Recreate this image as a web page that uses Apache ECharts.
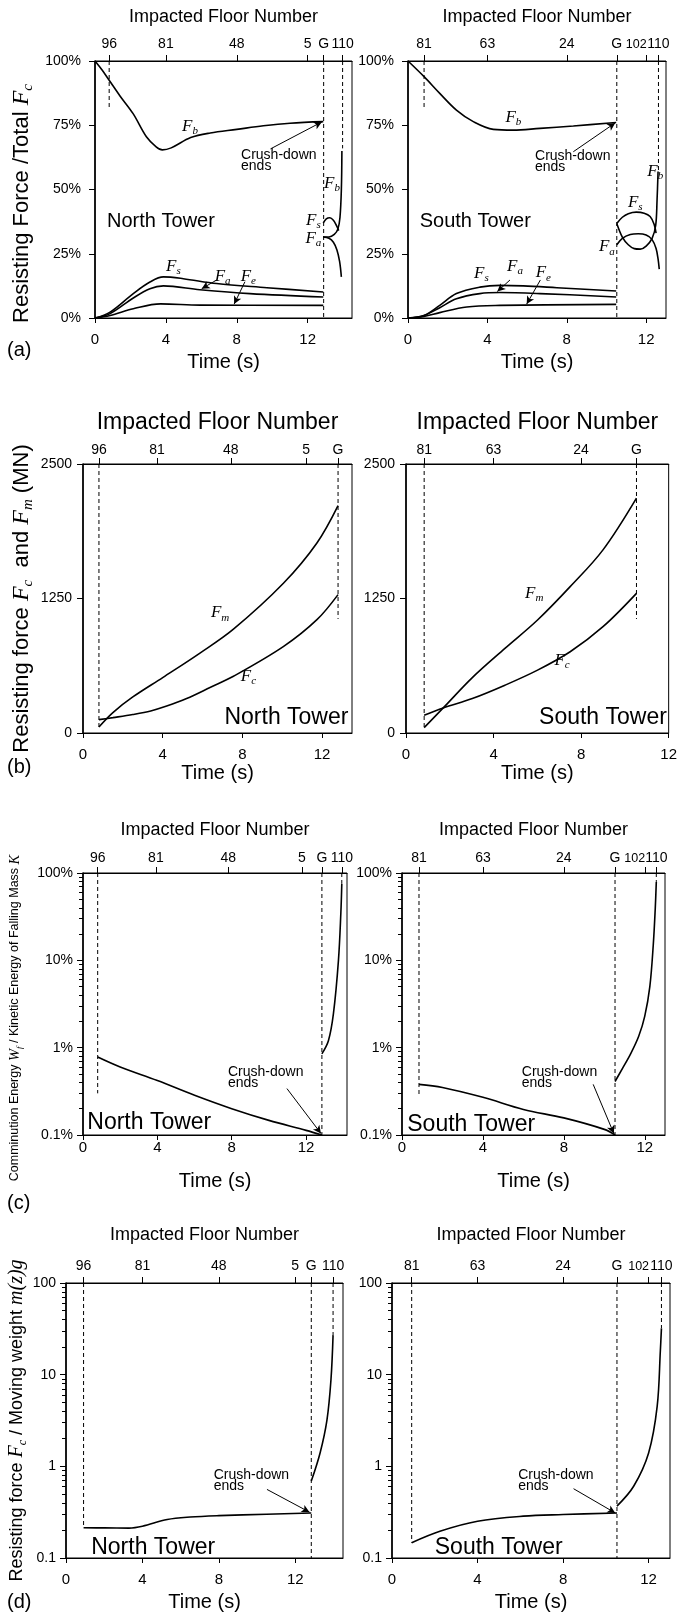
<!DOCTYPE html>
<html>
<head>
<meta charset="utf-8">
<script src="https://cdn.jsdelivr.net/npm/echarts@6/dist/echarts.min.js"></script>
<style>
html, body { margin: 0; padding: 0; background: #fff; }
#main { width: 680px; height: 1614px; }
</style>
</head>
<body>
<div id="main"></div>
<script>
// ---------- data ----------
// (a) share of total resisting force Fc, in %
const aNorthFb = [[0,100],[0.4,96.5],[0.8,92.5],[1.4,86.5],[2.15,79.5],[2.9,70.5],[3.45,66.6],[3.8,65.4],[4.3,66.2],[5.4,70.2],[6.5,72],[8,73.4],[9.5,74.8],[11,75.8],[12.88,76.4]];
const aNorthFs = [[0,0],[0.85,2.3],[2.16,9.5],[3.1,14],[3.86,16],[4.98,15.3],[6.86,13.4],[9.7,11.8],[12.88,10.1]];
const aNorthFa = [[0,0],[0.85,1.7],[2.16,7.8],[3.1,11.4],[3.86,12.5],[5.92,11],[8.74,9.5],[12.88,8.2]];
const aNorthFe = [[0,0],[0.85,1],[2.16,3.6],[3.7,5.5],[5.92,5],[12.88,4.9]];
const aNorthFbUp = [[12.88,31.5],[13.2,31.5],[13.5,32.5],[13.7,34.5],[13.82,39],[13.9,50],[13.93,65]];
const aNorthFsUp = [[12.88,37],[13.05,38.6],[13.25,39],[13.45,38],[13.62,36],[13.75,34]];
const aNorthFaUp = [[12.88,31.5],[13.2,31],[13.45,29.5],[13.65,26.5],[13.8,22],[13.9,16]];

const aSouthFb = [[0,100],[0.81,93.9],[1.6,87.4],[2.44,80.9],[3.29,76.4],[4.3,73.4],[5.3,73.1],[6.65,73.8],[8.33,74.7],[10.49,76.1]];
const aSouthFs = [[0,0],[0.81,1],[1.6,4.9],[2.44,9.5],[3.62,12],[4.63,12.7],[5.81,12.5],[7.5,11.8],[10.49,10.5]];
const aSouthFa = [[0,0],[0.81,1],[1.6,4],[2.44,7.5],[3.62,9.5],[4.63,9.9],[6.65,9.5],[10.49,8.2]];
const aSouthFe = [[0,0],[0.81,0.6],[1.6,2.1],[2.96,4.3],[4.63,4.9],[10.49,5.3]];
const aSouthFsUp = [[10.52,36.8],[10.8,39.2],[11.1,40.6],[11.5,41.2],[11.9,40.8],[12.2,39.5],[12.4,36.5],[12.5,33]];
const aSouthFbUp = [[10.52,36.8],[10.8,31.5],[11.1,28.5],[11.4,27],[11.7,26.8],[12.0,28],[12.3,31],[12.48,36],[12.55,46],[12.6,57]];
const aSouthFaUp = [[10.52,28.5],[10.8,31],[11.2,32.5],[11.6,32.8],[12.0,32.3],[12.3,30.5],[12.5,27],[12.6,23],[12.66,19]];

// (b) resisting force Fc and Fm, MN
const bNorthFm = [[0.8,56],[1.5,190],[2.5,335],[4,515],[5.87,743],[7.55,965],[10.07,1394],[11.74,1766],[12.8,2113]];
const bNorthFc = [[0.8,124],[1.5,143],[2.5,172],[3.4,205],[4.2,250],[5.2,320],[6.4,425],[7.55,527],[10.07,805],[11.74,1053],[12.8,1286]];
const bSouthFm = [[0.83,50],[1.7,233],[3.03,515],[4.52,786],[6.01,1050],[7.5,1360],[9.0,1702],[10.53,2183]];
const bSouthFc = [[0.83,165],[1.7,233],[3.03,320],[4.52,444],[6.01,584],[7.5,755],[9.0,988],[10.53,1298]];

// (c) comminution energy / kinetic energy, %
const cNorthW = [[0.79,0.78],[2,0.6],[4,0.42],[6,0.285],[8,0.2],[10,0.147],[12,0.113],[12.85,0.1]];
const cNorthWUp = [[12.85,0.85],[13.2,1.2],[13.47,2.45],[13.74,10],[13.87,35],[13.92,75]];
const cSouthW = [[0.84,0.38],[2,0.35],[4,0.27],[6,0.196],[8,0.157],[10,0.116],[10.53,0.1]];
const cSouthWUp = [[10.53,0.41],[10.9,0.58],[11.3,0.85],[11.7,1.35],[12.0,2.3],[12.25,5],[12.42,15],[12.52,40],[12.57,79]];

// (d) Fc / moving weight
const dNorthR = [[0.92,0.214],[2,0.213],[3.3,0.212],[4,0.222],[5.3,0.263],[6.5,0.28],[8,0.29],[10.5,0.3],[12.84,0.31]];
const dNorthRUp = [[12.84,0.69],[13.3,1.4],[13.66,3.2],[13.87,8.8],[13.98,27]];
const dSouthR = [[0.92,0.147],[2.24,0.196],[4,0.252],[6.14,0.286],[8,0.298],[10.52,0.31]];
const dSouthRUp = [[10.52,0.368],[11.3,0.606],[12,1.4],[12.4,4.5],[12.55,18.5],[12.6,32]];

// dashed verticals: [time, from, to]
const aNorthDash = [[0.8,100,81],[12.9,100,0],[13.97,100,66]];
const aSouthDash = [[0.81,100,81],[10.52,100,0],[12.62,100,57]];
const bNorthDash = [[0.8,2500,55],[12.8,2500,1060]];
const bSouthDash = [[0.83,2500,50],[10.53,2500,1060]];
const cNorthDash = [[0.79,100,0.3],[12.85,100,0.1],[13.92,100,75]];
const cSouthDash = [[0.84,100,0.28],[10.53,100,0.1],[12.57,100,79]];
const dNorthDash = [[0.92,100,0.214],[12.84,100,0.1],[13.98,100,27]];
const dSouthDash = [[0.92,100,0.147],[10.52,100,0.1],[12.6,100,32]];

// time axis, impacted floor axis, log minor ticks
const timeTicks = [0, 4, 8, 12];
const northFloors = ['96', '81', '48', '5', 'G', '110'];
const southFloors = ['81', '63', '24', 'G', '102', '110'];
const aNorthFloorT = [0.8, 4, 8, 12, 12.9, 13.97];
const aSouthFloorT = [0.81, 4, 8, 10.52, 12, 12.62];
const bNorthFloorT = [0.8, 3.72, 7.42, 11.2, 12.8];
const bSouthFloorT = [0.83, 4, 8, 10.53];
const cNorthFloorT = [0.79, 3.92, 7.81, 11.77, 12.85, 13.92];
const cSouthFloorT = [0.84, 4, 8, 10.53, 12, 12.57];
const dNorthFloorT = [0.92, 4, 8, 12, 12.84, 13.98];
const dSouthFloorT = [0.92, 4, 8, 10.52, 12, 12.6];
const logMinor = [0.2,0.3,0.4,0.5,0.6,0.7,0.8,0.9,2,3,4,5,6,7,8,9,20,30,40,50,60,70,80,90];

// ---------- layout ----------
const SANS = '"Liberation Sans", Arial, sans-serif';
const NARROW = '"Liberation Sans Narrow", "Liberation Sans", Arial, sans-serif';
const SERIF = '"Liberation Serif", "Times New Roman", serif';

function rich(size) {
    return {
        f: { fontFamily: SERIF, fontStyle: 'italic', fontSize: size, color: '#000' },
        s: { fontFamily: SERIF, fontStyle: 'italic', fontSize: Math.round(size * 0.62), color: '#000', padding: [Math.round(size * 0.6), 0, 0, 0] }
    };
}

const rows = [
    { type: 'value', min: 0, max: 100, interval: 25, fmt: v => v + '%', lf: NARROW, ls: 14, lm: 14,
      tm: 14, tg: 34, topGap: 35, topM: 10, topSize: 18,
      yName: 'Resisting Force /Total {f|F}{s|c}', ySize: 22, yGap: 59, yPad: [0, 28, 0, 0] },
    { type: 'value', min: 0, max: 2500, interval: 1250, fmt: v => String(v), lf: NARROW, ls: 14, lm: 11,
      tm: 14, tg: 30, topGap: 30, topM: 7, topSize: 23,
      yName: 'Resisting force {f|F}{s|c}  and {f|F}{s|m} (MN)', ySize: 22, yGap: 47, yPad: 0 },
    { type: 'log', min: 0.1, max: 100, fmt: v => (+v.toPrecision(2)) + '%', lf: SANS, ls: 14, lm: 10,
      tm: 5, tg: 36, topGap: 34, topM: 8, topSize: 18,
      yName: 'Comminution Energy {f|W}{s|f} / Kinetic Energy of Falling Mass {f|K}', ySize: 12.5, yGap: 59, yPad: [0, 28, 0, 0] },
    { type: 'log', min: 0.1, max: 100, fmt: v => String(+v.toPrecision(2)), lf: SANS, ls: 14, lm: 10,
      tm: 14, tg: 34, topGap: 39, topM: 10, topSize: 18,
      yName: 'Resisting force {f|F}{s|c} / Moving weight {f|m(z)g}', ySize: 18, yGap: 35, yPad: 0 }
];

const panels = [
    { box: [95, 61, 257, 257], xmax: 14.5, floorT: aNorthFloorT, floors: northFloors,
      curves: [aNorthFb, aNorthFs, aNorthFa, aNorthFe, aNorthFbUp, aNorthFsUp, aNorthFaUp], dash: aNorthDash },
    { box: [408, 61, 258, 257], xmax: 13, floorT: aSouthFloorT, floors: southFloors,
      curves: [aSouthFb, aSouthFs, aSouthFa, aSouthFe, aSouthFsUp, aSouthFbUp, aSouthFaUp], dash: aSouthDash },
    { box: [83, 464, 269, 269], xmax: 13.5, floorT: bNorthFloorT, floors: northFloors,
      curves: [bNorthFm, bNorthFc], dash: bNorthDash },
    { box: [406, 464, 268, 269], xmax: 12, floorT: bSouthFloorT, floors: southFloors,
      curves: [bSouthFm, bSouthFc], dash: bSouthDash },
    { box: [83, 873, 264, 262], xmax: 14.2, floorT: cNorthFloorT, floors: northFloors,
      curves: [cNorthW, cNorthWUp], dash: cNorthDash },
    { box: [402, 873, 263, 262], xmax: 13, floorT: cSouthFloorT, floors: southFloors,
      curves: [cSouthW, cSouthWUp], dash: cSouthDash },
    { box: [66, 1283, 277, 275], xmax: 14.5, floorT: dNorthFloorT, floors: northFloors,
      curves: [dNorthR, dNorthRUp], dash: dNorthDash },
    { box: [392, 1283, 278, 275], xmax: 13, floorT: dSouthFloorT, floors: southFloors,
      curves: [dSouthR, dSouthRUp], dash: dSouthDash }
];

// arrows: [panel, from, to]
const arrows = [
    [0, [9.9, 65.8], [12.8, 76.3]], [0, [6.87, 14.8], [6.02, 11.4]], [0, [8.46, 14.1], [7.85, 5.4]],
    [1, [8.33, 64.7], [10.44, 75.9]], [1, [5.14, 14.8], [4.5, 10.3]], [1, [6.67, 14.8], [5.98, 5.4]],
    [4, [10.97, 0.34], [12.8, 0.104]], [5, [9.45, 0.38], [10.47, 0.104]],
    [6, [10.52, 0.56], [12.75, 0.316]], [7, [8.49, 0.57], [10.44, 0.31]]
];
// curve names: [panel, t, value, letter, subscript, size]
const curveNames = [
    [0, 5.36, 74.5, 'F', 'b', 17], [0, 13.37, 52.5, 'F', 'b', 17], [0, 12.32, 38, 'F', 's', 17], [0, 12.32, 31, 'F', 'a', 17],
    [0, 4.42, 20, 'F', 's', 17], [0, 7.2, 16.3, 'F', 'a', 17], [0, 8.65, 16.3, 'F', 'e', 17],
    [1, 5.31, 78, 'F', 'b', 17], [1, 12.46, 57, 'F', 'b', 17], [1, 11.45, 45, 'F', 's', 17], [1, 10.02, 27.7, 'F', 'a', 17],
    [1, 3.7, 17.4, 'F', 's', 17], [1, 5.39, 20, 'F', 'a', 17], [1, 6.82, 17.6, 'F', 'e', 17],
    [2, 6.88, 1115, 'F', 'm', 17], [2, 8.3, 526, 'F', 'c', 17],
    [3, 5.86, 1298, 'F', 'm', 17], [3, 7.13, 677, 'F', 'c', 17]
];
// "Crush-down ends" notes, top-left corner: [panel, t, value]
const crushNotes = [[0, 8.24, 65.4], [1, 6.4, 65], [4, 7.8, 0.61], [5, 5.92, 0.6], [6, 7.73, 0.92], [7, 5.9, 0.92]];
// tower names: [panel, t, value, align, size]
const towerNames = [
    [0, 0.68, 37.4, 'left', 20], [1, 0.59, 37.4, 'left', 20],
    [2, 13.32, 142, 'right', 23], [3, 11.92, 146, 'right', 23],
    [4, 0.23, 0.137, 'left', 23], [5, 0.26, 0.13, 'left', 23],
    [6, 1.32, 0.13, 'left', 23], [7, 2.0, 0.13, 'left', 23]
];
const panelTags = [['(a)', 350], ['(b)', 767], ['(c)', 1203], ['(d)', 1602]];
// the crowded floor label set apart from the axis labels: [panel, t]
const crowdedFloor = [[1, 12], [5, 12], [7, 12]];

// ---------- option ----------
const chart = echarts.init(document.getElementById('main'));

const grid = [], xAxis = [], yAxis = [], series = [];
const minorAxes = [];
panels.forEach((p, i) => {
    const r = rows[Math.floor(i / 2)];
    const isLeft = i % 2 === 0;
    const labelT = p.floorT.filter((t, j) => p.floors[j] !== '102');
    grid.push({ left: p.box[0], top: p.box[1], width: p.box[2], height: p.box[3],
        show: true, borderColor: '#000', borderWidth: 1, backgroundColor: 'transparent' });
    xAxis.push({
        gridIndex: i, type: 'value', position: 'bottom', min: 0, max: p.xmax,
        axisLine: { show: true, onZero: false, lineStyle: { color: '#000', width: 1 } },
        axisTick: { show: true, customValues: timeTicks, length: 5, lineStyle: { color: '#000' } },
        axisLabel: { customValues: timeTicks, color: '#000', fontSize: 15, fontFamily: NARROW, margin: r.tm,
            showMinLabel: true, showMaxLabel: true },
        splitLine: { show: false },
        name: 'Time (s)', nameLocation: 'middle', nameGap: r.tg,
        nameTextStyle: { fontSize: 20, fontFamily: SANS, color: '#000' }
    });
    xAxis.push({
        gridIndex: i, type: 'value', position: 'top', min: 0, max: p.xmax,
        axisLine: { show: true, onZero: false, lineStyle: { color: '#000', width: 1.2 } },
        axisTick: { show: true, customValues: p.floorT, length: 6, lineStyle: { color: '#000' } },
        axisLabel: { customValues: labelT, color: '#000', fontSize: 14, fontFamily: NARROW, margin: r.topM,
            showMinLabel: true, showMaxLabel: true,
            formatter: v => {
                let k = 0;
                p.floorT.forEach((t, j) => { if (Math.abs(t - v) < Math.abs(p.floorT[k] - v)) k = j; });
                return p.floors[k];
            } },
        splitLine: { show: false },
        name: 'Impacted Floor Number', nameLocation: 'middle', nameGap: r.topGap,
        nameTextStyle: { fontSize: r.topSize, fontFamily: SANS, color: '#000' }
    });
    const y = {
        gridIndex: i, type: r.type, min: r.min, max: r.max, position: 'left',
        axisLine: { show: true, onZero: false, lineStyle: { color: '#000', width: 1.6 } },
        axisTick: { show: true, length: 6, lineStyle: { color: '#000' } },
        axisLabel: { color: '#000', fontSize: r.ls, fontFamily: r.lf, margin: r.lm, formatter: r.fmt,
            showMinLabel: true, showMaxLabel: true },
        splitLine: { show: false }
    };
    if (r.type === 'log') {
        y.logBase = 10;
        // minor log ticks on an overlaid axis
        minorAxes.push({
            gridIndex: i, type: 'log', logBase: 10, min: r.min, max: r.max, position: 'left',
            axisLine: { show: false, onZero: false },
            axisTick: { show: true, customValues: logMinor, length: 4, lineStyle: { color: '#000' } },
            axisLabel: { show: false }, splitLine: { show: false }
        });
    } else {
        y.interval = r.interval;
    }
    if (isLeft) {
        y.name = r.yName;
        y.nameLocation = 'middle';
        y.nameRotate = 90;
        y.nameGap = r.yGap;
        y.nameTextStyle = { fontSize: r.ySize, fontFamily: SANS, color: '#000', padding: r.yPad, rich: rich(r.ySize + 2) };
    }
    yAxis.push(y);

    p.curves.forEach(d => {
        series.push({ type: 'line', xAxisIndex: 2 * i, yAxisIndex: i, data: d, symbol: 'none', smooth: 0.35,
            lineStyle: { color: '#000', width: 1.6 }, silent: true, z: 3 });
    });
    p.dash.forEach(d => {
        series.push({ type: 'line', xAxisIndex: 2 * i, yAxisIndex: i, data: [[d[0], d[1]], [d[0], d[2]]], symbol: 'none',
            lineStyle: { color: '#000', width: 1, type: [4, 3] }, silent: true, z: 2 });
    });
});
minorAxes.forEach(a => yAxis.push(a));

arrows.forEach(a => {
    const i = a[0];
    series.push({ type: 'line', xAxisIndex: 2 * i, yAxisIndex: i, data: [], silent: true,
        markLine: { silent: true, animation: false, symbol: ['none', 'arrow'], symbolSize: [6, 8],
            lineStyle: { color: '#000', width: 1, type: 'solid' }, label: { show: false },
            data: [[{ coord: a[1] }, { coord: a[2] }]] } });
});

chart.setOption({ animation: false, backgroundColor: '#fff', grid, xAxis, yAxis, series });

// ---------- annotations placed through the axes ----------
const px = (i, t, v) => chart.convertToPixel({ xAxisIndex: 2 * i, yAxisIndex: i }, [t, v]);
const graphic = [];
curveNames.forEach(c => {
    const [x, y] = px(c[0], c[1], c[2]);
    graphic.push({ type: 'text', x, y, silent: true,
        style: { text: '{f|' + c[3] + '}{s|' + c[4] + '}', rich: rich(c[5]), align: 'center', verticalAlign: 'middle', fill: '#000' } });
});
crushNotes.forEach(c => {
    const [x, y] = px(c[0], c[1], c[2]);
    graphic.push({ type: 'text', x, y, silent: true,
        style: { text: 'Crush-down\nends', fontSize: 14, fontFamily: NARROW, lineHeight: 11, fill: '#000', align: 'left', verticalAlign: 'top' } });
});
towerNames.forEach(c => {
    const [x, y] = px(c[0], c[1], c[2]);
    graphic.push({ type: 'text', x, y, silent: true,
        style: { text: c[0] % 2 === 0 ? 'North Tower' : 'South Tower', fontSize: c[4], fontFamily: SANS, fill: '#000', align: c[3], verticalAlign: 'middle' } });
});
crowdedFloor.forEach(c => {
    const i = c[0];
    const x = px(i, c[1], 1)[0];
    const top = panels[i].box[1] - rows[Math.floor(i / 2)].topM;
    graphic.push({ type: 'text', x: x - 10, y: top, silent: true,
        style: { text: '102', fontSize: 12.5, fontFamily: NARROW, fill: '#000', align: 'center', verticalAlign: 'bottom' } });
});
panelTags.forEach(t => {
    graphic.push({ type: 'text', x: 7, y: t[1], silent: true,
        style: { text: t[0], fontSize: 20, fontFamily: SANS, fill: '#000', align: 'left', verticalAlign: 'middle' } });
});
chart.setOption({ graphic });
</script>
</body>
</html>
